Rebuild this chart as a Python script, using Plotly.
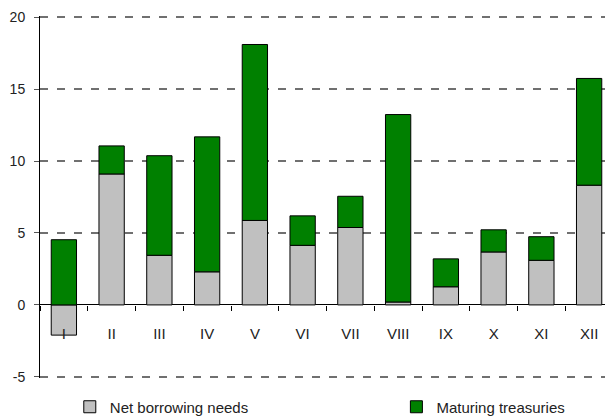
import plotly.graph_objects as go

months = ["I", "II", "III", "IV", "V", "VI", "VII", "VIII", "IX", "X", "XI", "XII"]
net_borrowing = [-2.1, 9.1, 3.45, 2.3, 5.87, 4.14, 5.38, 0.2, 1.26, 3.68, 3.1, 8.32]
maturing = [4.53, 1.95, 6.92, 9.38, 12.23, 2.05, 2.17, 13.03, 1.94, 1.54, 1.64, 7.42]
y_ticks = [-5, 0, 5, 10, 15, 20]
y_tick_labels = ["-5", "0", "5", "10", "15", "20"]

FONT = "Liberation Sans, Arial, sans-serif"

fig = go.Figure()
fig.add_trace(go.Bar(
    x=months, y=net_borrowing, name="Net borrowing needs",
    marker=dict(color="#c0c0c0", line=dict(color="#000000", width=1)),
    legend="legend",
))
fig.add_trace(go.Bar(
    x=months, y=maturing, name="Maturing treasuries",
    marker=dict(color="#008000", line=dict(color="#000000", width=1)),
    legend="legend2",
))

leg_common = dict(
    orientation="h", yref="container", yanchor="middle", y=1 - 399 / 411,
    xanchor="left",
    font=dict(family=FONT, size=15, color="#222222"),
    itemwidth=30, bgcolor="rgba(0,0,0,0)",
)

# page has an 8px body margin, so the figure is sized/offset to compensate
fig.update_layout(
    width=605, height=411,
    margin=dict(l=32, r=0, t=8, b=41),
    barmode="relative",
    bargap=0.47,
    plot_bgcolor="white",
    paper_bgcolor="white",
    font=dict(family=FONT, size=14, color="#222222"),
    showlegend=True,
    legend=dict(x=0.052, **leg_common),
    legend2=dict(x=0.622, **leg_common),
    xaxis=dict(
        type="category",
        anchor="free", position=(0 + 5.08) / 25.16,
        showline=False,
        ticks="outside", ticklen=5, tickcolor="#000000", tickwidth=1,
        tickson="boundaries",
        showgrid=False, zeroline=False,
        ticklabelstandoff=18,
        automargin=False,
        tickfont=dict(family=FONT, size=15, color="#222222"),
    ),
    yaxis=dict(
        range=[-5.08, 20.08], tickvals=y_ticks, ticktext=y_tick_labels,
        showline=True, linecolor="#000000", linewidth=1,
        ticks="outside", ticklen=5, tickcolor="#555555", tickwidth=1,
        showgrid=True, gridcolor="#707070", gridwidth=1.5, griddash="8px,9px",
        zeroline=True, zerolinecolor="#000000", zerolinewidth=1,
        ticklabelstandoff=6,
        automargin=False,
        tickfont=dict(family=FONT, size=14, color="#222222"),
    ),
)

fig.write_html("out.html")
